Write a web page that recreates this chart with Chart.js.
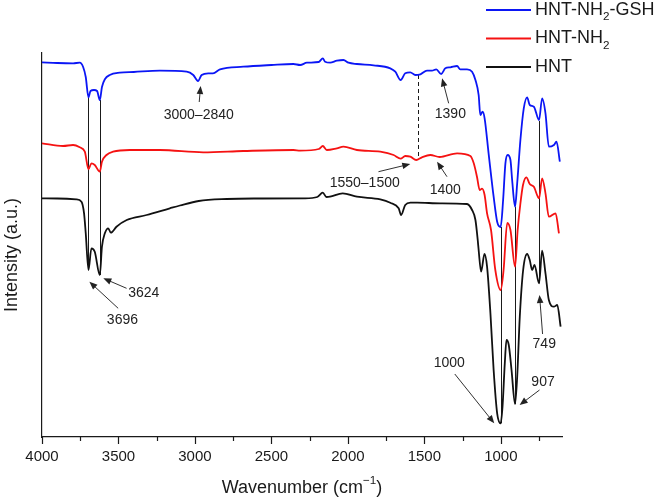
<!DOCTYPE html>
<html>
<head>
<meta charset="utf-8">
<script src="https://cdn.jsdelivr.net/npm/chart.js@4.4.1/dist/chart.umd.min.js"></script>
<style>
  html, body { margin: 0; padding: 0; background: #fff; }
  #wrap { width: 661px; height: 502px; }
</style>
</head>
<body>
<div id="wrap"><canvas id="ftirChart" width="661" height="502"></canvas></div>
<script>
// series names (_{..} = subscript, ^{..} = superscript)
const seriesNames = ['HNT-NH_{2}-GSH', 'HNT-NH_{2}', 'HNT'];

// HNT-NH2-GSH (blue)
const gshWn = [4000, 3900, 3797, 3753, 3731, 3714, 3696, 3683, 3660, 3640, 3622, 3608, 3589, 3557, 3491, 3400, 3229, 3054, 3011, 2980,
  2956, 2913, 2882, 2836, 2684, 2500, 2356, 2312, 2268, 2190, 2164, 2149, 2116, 2072, 2029, 1996, 1941, 1832, 1723, 1690,
  1655, 1625, 1592, 1559, 1526, 1483, 1450, 1422, 1390, 1363, 1330, 1286, 1265, 1221, 1188, 1166, 1145, 1134, 1119, 1106,
  1080, 1047, 1024, 1001, 985, 970, 955, 937, 926, 907, 893, 872, 850, 828, 811, 784, 750, 730, 708, 686, 653, 636, 614];
const gshVal = [374.7, 374, 373.7, 374.3, 370, 360, 339.7, 346, 347, 346, 337, 350, 357.7, 362, 364.3, 365, 366.3, 365.3, 362, 356,
  362, 363.7, 363.7, 367.7, 370.3, 372, 373, 372, 374.3, 375, 378.7, 375.3, 374.3, 376.3, 377, 374.3, 373, 371.7, 368.7, 365.3,
  357, 363.7, 364.7, 362, 362.7, 366.3, 366.3, 367.7, 363, 368.7, 369.7, 371, 367.7, 367.7, 365.3, 357, 342, 322, 325.3, 318.7,
  283.7, 240.3, 215.3, 210, 237, 273.7, 282, 277, 257, 230.3, 253.7, 297, 328.7, 339.7, 332, 330.3, 317, 338.7, 323.7, 290.3, 292, 295.3, 275.3];

// HNT-NH2 (red)
const nh2Wn = [4000, 3862, 3797, 3753, 3720, 3696, 3677, 3655, 3622, 3608, 3578, 3535, 3426, 3229, 2946, 2684, 2356, 2312, 2190, 2164,
  2138, 2072, 2029, 1941, 1788, 1701, 1655, 1625, 1592, 1553, 1516, 1461, 1400, 1286, 1199, 1177, 1156, 1138, 1123, 1106,
  1090, 1064, 1036, 1001, 982, 958, 937, 907, 890, 872, 855, 833, 811, 784, 750, 730, 708, 686, 642, 620];
const nh2Val = [293.7, 291, 292, 289.7, 285.3, 267.7, 273.7, 272, 265.3, 275.3, 282, 285.3, 287, 287, 284.7, 286, 287, 286.3, 288, 291,
  287, 288.7, 290.3, 287, 285.3, 282, 278.3, 281, 280.3, 277, 279.7, 282, 280, 283.7, 281, 273.7, 260.3, 247, 248.3, 242,
  223.7, 207, 167, 147, 167, 214, 207, 170.3, 207, 233.5, 252, 259.7, 253, 250.3, 238.7, 258.7, 243.7, 220.3, 223.7, 203.7];

// HNT (black)
const hntWn = [4000, 3900, 3775, 3742, 3725, 3714, 3696, 3677, 3655, 3622, 3608, 3589, 3567, 3550, 3513, 3446, 3316, 3164, 3098, 2975,
  2792, 2615, 2283, 2200, 2164, 2140, 2117, 2034, 1941, 1788, 1723, 1668, 1652, 1625, 1591, 1548, 1396, 1221, 1188, 1166,
  1151, 1145, 1129, 1107, 1090, 1068, 1047, 1024, 1001, 989, 974, 963, 948, 930, 907, 893, 876, 854, 828, 811,
  795, 780, 750, 730, 708, 686, 653, 631, 609];
const hntVal = [238.7, 238.5, 237.7, 235.3, 223.7, 203.7, 167, 188.7, 185.3, 162, 190.3, 203.7, 208.7, 204.3, 210.3, 217, 222, 228.7, 231.5, 236,
  238, 238.5, 238.7, 240, 244.3, 240, 240.3, 243.7, 240.3, 237.7, 234.3, 228.7, 222, 232, 234.3, 234.3, 233.7, 233, 227, 217,
  197, 187, 165.3, 183, 170.3, 123.7, 67, 23.7, 13.7, 30.3, 73.7, 97, 92, 67, 33, 60.3, 120.3, 167, 183, 177,
  167, 172, 153.7, 186.3, 163.7, 137, 130.3, 132, 110.3];

// axis ticks
const xTicks = [4000, 3500, 3000, 2500, 2000, 1500, 1000];
const xMinorTicks = [3750, 3250, 2750, 2250, 1750, 1250, 750];

// band marker lines (wavenumber, from / to intensity)
const peakWn = [3696, 3624, 1000, 907, 749];
const peakTop = [339.7, 337, 210, 230.3, 316];
const peakBottom = [167, 162, 13.7, 33, 153.7];
const dashWn = [1544];
const dashTop = [362];
const dashBottom = [277];

// band labels and their arrows ([wavenumber, intensity])
const bandText = ['3000–2840', '1390', '1550–1500', '1400', '3624', '3696', '1000', '907', '749'];
const bandLabelAt = [[2975, 322], [1330, 323], [1890, 253.7], [1363, 247], [3335, 143.7], [3474, 117], [1337, 73.7], [724, 55.3], [716, 93]];
const arrowFrom = [[2972, 335], [1341, 333.7], [1800, 265.3], [1352, 260.3], [3447, 148.7], [3502, 128.7], [1301, 63], [747, 47], [727, 103]];
const arrowTo = [[2963, 351], [1384, 358.7], [1592, 273], [1417, 275.3], [3599, 158.7], [3690, 155.3], [1043, 13.7], [877, 32], [747, 142]];

const FONT = '"Liberation Sans", Arial, sans-serif';
const INK = '#1a1a1a';
const COLORS = ['#0b16f5', '#f51212', '#111111'];

function toPoints(wn, val) {
  return wn.map((w, i) => ({ x: w, y: val[i] }));
}

function richParts(str) {
  const parts = [];
  const re = /([_^])\{([^}]*)\}/g;
  let last = 0, m;
  while ((m = re.exec(str))) {
    if (m.index > last) parts.push({ t: str.slice(last, m.index), k: '' });
    parts.push({ t: m[2], k: m[1] });
    last = re.lastIndex;
  }
  if (last < str.length) parts.push({ t: str.slice(last), k: '' });
  return parts;
}

function drawRich(ctx, str, x, y, size, align) {
  const parts = richParts(str);
  const widths = parts.map(p => {
    ctx.font = (p.k ? size * 0.65 : size) + 'px ' + FONT;
    return ctx.measureText(p.t).width;
  });
  const total = widths.reduce((a, b) => a + b, 0);
  let cx = align === 'center' ? x - total / 2 : (align === 'right' ? x - total : x);
  ctx.textAlign = 'left';
  ctx.textBaseline = 'middle';
  parts.forEach((p, i) => {
    ctx.font = (p.k ? size * 0.65 : size) + 'px ' + FONT;
    const dy = p.k === '_' ? size * 0.38 : (p.k === '^' ? -size * 0.38 : 0);
    ctx.fillText(p.t, cx, y + dy);
    cx += widths[i];
  });
}

function drawArrow(ctx, x0, y0, x1, y1) {
  const a = Math.atan2(y1 - y0, x1 - x0);
  const len = 8, half = 3.3;
  ctx.beginPath();
  ctx.moveTo(x0, y0);
  ctx.lineTo(x1 - Math.cos(a) * len * 0.7, y1 - Math.sin(a) * len * 0.7);
  ctx.stroke();
  ctx.beginPath();
  ctx.moveTo(x1, y1);
  ctx.lineTo(x1 - len * Math.cos(a) + half * Math.sin(a), y1 - len * Math.sin(a) - half * Math.cos(a));
  ctx.lineTo(x1 - len * Math.cos(a) - half * Math.sin(a), y1 - len * Math.sin(a) + half * Math.cos(a));
  ctx.closePath();
  ctx.fill();
}

const decorations = {
  id: 'decorations',
  beforeDatasetsDraw(chart) {
    const { ctx, scales: { x, y } } = chart;
    ctx.save();
    ctx.strokeStyle = INK;
    ctx.lineWidth = 1;
    peakWn.forEach((w, i) => {
      const px = Math.round(x.getPixelForValue(w)) + 0.5;
      ctx.beginPath();
      ctx.moveTo(px, y.getPixelForValue(peakTop[i]));
      ctx.lineTo(px, y.getPixelForValue(peakBottom[i]));
      ctx.stroke();
    });
    ctx.setLineDash([4, 3]);
    dashWn.forEach((w, i) => {
      const px = Math.round(x.getPixelForValue(w)) + 0.5;
      ctx.beginPath();
      ctx.moveTo(px, y.getPixelForValue(dashTop[i]));
      ctx.lineTo(px, y.getPixelForValue(dashBottom[i]));
      ctx.stroke();
    });
    ctx.restore();
  },
  afterDraw(chart) {
    const { ctx, chartArea, scales: { x, y } } = chart;
    ctx.save();
    ctx.strokeStyle = INK;
    ctx.fillStyle = INK;

    // tick marks (outside)
    ctx.lineWidth = 1.2;
    xTicks.concat(xMinorTicks).forEach(v => {
      const px = Math.round(x.getPixelForValue(v)) + 0.5;
      const len = xTicks.includes(v) ? 7 : 4;
      ctx.beginPath();
      ctx.moveTo(px, chartArea.bottom);
      ctx.lineTo(px, chartArea.bottom + len);
      ctx.stroke();
    });

    // band labels with arrows
    ctx.lineWidth = 0.9;
    ctx.fillStyle = '#222';
    bandText.forEach((t, i) => {
      drawRich(ctx, t, x.getPixelForValue(bandLabelAt[i][0]), y.getPixelForValue(bandLabelAt[i][1]), 14, 'center');
      drawArrow(ctx,
        x.getPixelForValue(arrowFrom[i][0]), y.getPixelForValue(arrowFrom[i][1]),
        x.getPixelForValue(arrowTo[i][0]), y.getPixelForValue(arrowTo[i][1]));
    });

    // axis titles
    ctx.fillStyle = INK;
    drawRich(ctx, 'Wavenumber (cm^{−1})', (chartArea.left + chartArea.right) / 2, 488, 18, 'center');
    ctx.save();
    ctx.translate(12, 255);
    ctx.rotate(-Math.PI / 2);
    drawRich(ctx, 'Intensity (a.u.)', 0, 0, 18, 'center');
    ctx.restore();

    // legend
    ctx.lineWidth = 2;
    seriesNames.forEach((name, i) => {
      const ly = 10 + i * 28.5;
      ctx.strokeStyle = COLORS[i];
      ctx.beginPath();
      ctx.moveTo(486, ly);
      ctx.lineTo(531, ly);
      ctx.stroke();
      ctx.fillStyle = INK;
      drawRich(ctx, name, 535, ly, 18, 'left');
    });
    ctx.restore();
  }
};

const datasets = [
  { label: 'HNT-NH2-GSH', data: toPoints(gshWn, gshVal), borderColor: COLORS[0] },
  { label: 'HNT-NH2', data: toPoints(nh2Wn, nh2Val), borderColor: COLORS[1] },
  { label: 'HNT', data: toPoints(hntWn, hntVal), borderColor: COLORS[2] }
];

new Chart(document.getElementById('ftirChart'), {
  type: 'line',
  data: { datasets },
  options: {
    responsive: false,
    animation: false,
    layout: { padding: { left: 42, right: 99, top: 53, bottom: 0 } },
    elements: {
      point: { radius: 0 },
      line: { borderWidth: 1.8, cubicInterpolationMode: 'monotone', fill: false }
    },
    scales: {
      x: {
        type: 'linear',
        reverse: true,
        min: 600,
        max: 4000,
        afterBuildTicks: s => { s.ticks = xTicks.map(v => ({ value: v })); },
        afterFit: s => { s.height = 65; },
        grid: { display: false, drawTicks: false },
        border: { display: true, color: INK, width: 1.2 },
        ticks: {
          color: INK,
          font: { family: FONT, size: 15 },
          padding: 11,
          maxRotation: 0,
          autoSkip: false,
          callback: v => String(v)
        }
      },
      y: {
        min: 0,
        max: 384,
        afterFit: s => { s.width = 0; },
        grid: { display: false, drawTicks: false },
        border: { display: true, color: INK, width: 1.2 },
        ticks: { display: false }
      }
    },
    plugins: { legend: { display: false }, tooltip: { enabled: false } }
  },
  plugins: [decorations]
});
</script>
</body>
</html>
